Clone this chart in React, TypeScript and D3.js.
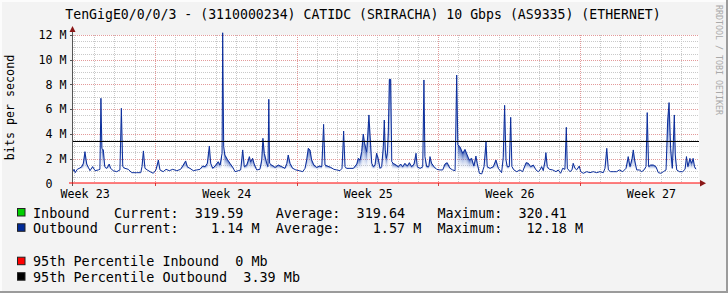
import React from "react";
import * as d3 from "d3";

const titleText =
  "TenGigE0/0/0/3 - (3110000234) CATIDC (SRIRACHA) 10 Gbps (AS9335) (ETHERNET)";
const yAxisTitle = "bits per second";
const watermark = "RRDTOOL / TOBI OETIKER";

// y axis (M bits/s)
const yMax = 12;
const yMajorTicks = [0, 2, 4, 6, 8, 10, 12];
const yMinorStep = 0.5;

// time axis in days from the left edge of the graph
const totalDays = 31;
const dayGridOffset = 0.1;
const weekStartDays = [4.1, 11.1, 18.1, 25.1];
const weekLabels = ["Week 23", "Week 24", "Week 25", "Week 26", "Week 27"];
const weekLabelDays = [0.65, 7.65, 14.65, 21.65, 28.65];

// 95th percentiles (M bits/s)
const pct95Inbound = 0;
const pct95Outbound = 3.39;

// outbound traffic [day, Mbit/s]
const outbound: [number, number][] = [
  [0.03, 0.94], [0.1, 1.13], [0.16, 0.86], [0.26, 1.13], [0.36, 1.21], [0.48, 1.35],
  [0.56, 1.62], [0.64, 2.56], [0.73, 1.56], [0.81, 1.29], [0.89, 1.02], [1.02, 1.35],
  [1.14, 1.02], [1.3, 1.08], [1.38, 1.13], [1.43, 6.88], [1.48, 2.83], [1.55, 2.7],
  [1.62, 1.35], [1.72, 1.21], [1.84, 1.56], [1.91, 1.21], [2.04, 1.02], [2.21, 0.94],
  [2.37, 1.08], [2.44, 6.07], [2.51, 1.35], [2.62, 1.21], [2.78, 1.13], [2.95, 0.86],
  [3.2, 0.86], [3.4, 0.86], [3.46, 1.35], [3.53, 2.62], [3.61, 1.21], [3.72, 1.08],
  [3.86, 0.94], [4.02, 0.81], [4.15, 1.08], [4.27, 1.89], [4.35, 1.08], [4.51, 0.94],
  [4.65, 1.13], [4.81, 1.02], [4.98, 1.13], [5.18, 1.02], [5.37, 1.13], [5.47, 1.4],
  [5.62, 1.81], [5.7, 1.35], [5.83, 1.21], [6.0, 1.02], [6.17, 1.08], [6.33, 1.13],
  [6.46, 1.4], [6.58, 1.35], [6.69, 1.62], [6.79, 3.02], [6.86, 1.62], [6.96, 1.21],
  [7.07, 1.4], [7.23, 1.75], [7.32, 1.48], [7.42, 2.43], [7.45, 12.18], [7.5, 2.97],
  [7.56, 2.29], [7.68, 1.94], [7.81, 1.62], [7.95, 1.29], [8.06, 0.94], [8.22, 1.02],
  [8.34, 1.08], [8.44, 2.7], [8.52, 1.35], [8.64, 1.48], [8.77, 2.16], [8.83, 1.75],
  [8.93, 2.02], [9.01, 1.56], [9.13, 1.08], [9.29, 1.13], [9.38, 1.89], [9.44, 3.64],
  [9.51, 2.43], [9.63, 1.62], [9.69, 1.35], [9.73, 6.8], [9.77, 1.62], [9.87, 1.48],
  [10.04, 1.29], [10.2, 1.48], [10.37, 1.35], [10.53, 1.21], [10.62, 1.62], [10.69, 2.29],
  [10.78, 1.62], [10.91, 1.21], [11.07, 1.08], [11.24, 1.02], [11.41, 0.94], [11.52, 1.21],
  [11.6, 1.89], [11.68, 2.83], [11.77, 2.7], [11.85, 1.89], [11.96, 1.48], [12.1, 1.29],
  [12.23, 1.4], [12.35, 1.35], [12.44, 4.77], [12.51, 1.48], [12.62, 1.4], [12.79, 1.29],
  [12.95, 1.13], [13.09, 1.08], [13.25, 1.02], [13.35, 1.21], [13.43, 4.23], [13.5, 1.35],
  [13.58, 1.21], [13.74, 1.21], [13.91, 1.21], [14.08, 1.56], [14.15, 2.02], [14.24, 1.89],
  [14.32, 2.56], [14.4, 3.99], [14.47, 3.24], [14.57, 2.56], [14.68, 5.53], [14.82, 1.62],
  [14.9, 1.35], [14.98, 1.48], [15.06, 2.43], [15.14, 2.02], [15.23, 1.21], [15.31, 1.35],
  [15.39, 2.97], [15.44, 5.12], [15.49, 2.7], [15.54, 2.02], [15.59, 2.43], [15.64, 4.31],
  [15.69, 8.41], [15.76, 8.41], [15.81, 1.75], [15.88, 1.62], [16.02, 1.48], [16.13, 1.35],
  [16.25, 1.56], [16.35, 1.35], [16.46, 1.62], [16.58, 1.4], [16.68, 1.67], [16.79, 1.35],
  [16.91, 1.56], [17.01, 2.43], [17.07, 1.35], [17.21, 1.21], [17.34, 1.35], [17.4, 8.36],
  [17.45, 2.16], [17.54, 1.35], [17.64, 1.35], [17.7, 2.16], [17.78, 1.62], [17.9, 1.35],
  [18.03, 1.13], [18.19, 1.08], [18.33, 1.08], [18.44, 1.56], [18.55, 1.67], [18.69, 1.21],
  [18.82, 1.08], [18.94, 1.02], [19.02, 8.76], [19.08, 3.1], [19.18, 2.97], [19.32, 2.43],
  [19.43, 2.75], [19.54, 2.29], [19.64, 1.89], [19.76, 2.02], [19.87, 1.4], [19.97, 2.21],
  [20.04, 1.62], [20.14, 0.81], [20.26, 0.76], [20.37, 1.35], [20.47, 3.37], [20.53, 1.35],
  [20.67, 1.21], [20.83, 1.35], [20.96, 1.89], [21.08, 1.21], [21.24, 0.86], [21.32, 2.1],
  [21.39, 6.31], [21.46, 1.89], [21.52, 1.35], [21.62, 1.35], [21.69, 5.34], [21.75, 1.35],
  [21.85, 1.08], [21.99, 0.94], [22.15, 1.08], [22.28, 0.94], [22.45, 1.67], [22.56, 1.62],
  [22.68, 1.35], [22.81, 1.48], [22.94, 1.08], [23.05, 0.94], [23.14, 1.08], [23.22, 1.35],
  [23.3, 1.02], [23.39, 1.89], [23.43, 2.48], [23.5, 1.35], [23.6, 1.13], [23.77, 1.08],
  [23.93, 0.94], [24.04, 1.08], [24.16, 0.81], [24.26, 1.21], [24.37, 1.13], [24.44, 4.53],
  [24.49, 1.21], [24.62, 0.94], [24.72, 1.08], [24.78, 1.62], [24.87, 1.21], [24.95, 1.08],
  [25.08, 1.4], [25.15, 0.94], [25.28, 0.81], [25.45, 0.94], [25.61, 0.86], [25.77, 0.94],
  [25.94, 0.86], [26.1, 0.94], [26.27, 0.86], [26.35, 1.21], [26.44, 2.83], [26.52, 1.08],
  [26.63, 0.94], [26.76, 0.94], [26.93, 0.94], [27.06, 1.08], [27.23, 0.94], [27.39, 1.21],
  [27.5, 2.16], [27.59, 1.35], [27.69, 2.02], [27.75, 2.7], [27.82, 1.89], [27.92, 1.08],
  [28.05, 1.08], [28.17, 0.94], [28.28, 1.08], [28.38, 1.35], [28.44, 5.72], [28.51, 1.35],
  [28.61, 1.48], [28.74, 1.48], [28.87, 1.35], [28.99, 0.86], [29.11, 0.81], [29.24, 0.94],
  [29.37, 1.08], [29.45, 5.12], [29.52, 6.53], [29.6, 2.83], [29.68, 1.21], [29.73, 3.37],
  [29.78, 5.53], [29.83, 2.29], [29.9, 1.08], [30.03, 0.94], [30.19, 0.94], [30.31, 1.13],
  [30.38, 2.16], [30.45, 1.35], [30.55, 2.02], [30.63, 1.62], [30.71, 2.02], [30.78, 1.35],
  [30.85, 1.14],
];

// legend
const legendItems = [
  { color: "#00CF00", text: "Inbound   Current:  319.59    Average:  319.64    Maximum:  320.41" },
  { color: "#002A97", text: "Outbound  Current:    1.14 M  Average:    1.57 M  Maximum:   12.18 M" },
];
const pctItems = [
  { color: "#FF0000", text: "95th Percentile Inbound  0 Mb" },
  { color: "#000000", text: "95th Percentile Outbound  3.39 Mb" },
];

const FONT = "'DejaVu Sans Mono', monospace";
const W = 728;
const H = 293;

export default function App() {
  const x = d3.scaleLinear().domain([0, totalDays]).range([72, 699]);
  const y = d3.scaleLinear().domain([0, yMax]).range([183.3, 35]);
  const px = (v: number) => Math.round(v) + 0.5;

  const line = d3
    .line<[number, number]>()
    .x((d) => x(d[0]))
    .y((d) => y(d[1]));

  const bis = d3.bisector((d: [number, number]) => d[0]).left;
  const valueAt = (t: number) => {
    if (t < outbound[0][0] || t > outbound[outbound.length - 1][0]) return null;
    const i = bis(outbound, t);
    if (i === 0) return outbound[0][1];
    const a = outbound[i - 1];
    const b = outbound[i];
    return a[1] + ((b[1] - a[1]) * (t - a[0])) / (b[0] - a[0]);
  };
  const floorV = 1.15;
  const [r0, r1] = x.range();
  const columns = d3.range(Math.floor(r0), Math.ceil(r1)).map((c) => {
    const v = valueAt(x.invert(c + 0.5));
    return { c, v };
  });

  const minorY = d3
    .range(yMinorStep, yMax, yMinorStep)
    .filter((v) => !yMajorTicks.some((m) => Math.abs(m - v) < 1e-6));
  const majorY = yMajorTicks.filter((v) => v > 0);
  const minorX = d3
    .range(dayGridOffset, totalDays, 1)
    .filter((d) => !weekStartDays.some((w) => Math.abs(w - d) < 1e-6));

  const charW = 11.68 * 0.6021;

  return (
    <svg
      width={W}
      height={H}
      style={{ position: "absolute", left: 0, top: 0, display: "block" }}
      fontFamily={FONT}
    >
      <defs>
        <linearGradient id="outGrad" x1="0" y1="0" x2="0" y2="1">
          <stop offset="0" stopColor="#1A3EA6" stopOpacity="0.85" />
          <stop offset="0.5" stopColor="#5577C8" stopOpacity="0.38" />
          <stop offset="1" stopColor="#8FA5DC" stopOpacity="0.0" />
        </linearGradient>
      </defs>
      {/* background and 3D border */}
      <rect x={0} y={0} width={W} height={H} fill="#F3F3F3" />
      <rect x={0} y={0} width={W} height={2} fill="#FCFCFC" />
      <rect x={0} y={0} width={2} height={H} fill="#FCFCFC" />
      <rect x={W - 2} y={0} width={2} height={H} fill="#9B9B9B" />
      <rect x={0} y={H - 2} width={W} height={2} fill="#9B9B9B" />

      {/* title */}
      <text x={363} y={18.5} fontSize={13.2} textAnchor="middle" fill="#000">
        {titleText}
      </text>

      {/* watermark */}
      <text transform="translate(716,5) rotate(90)" fontSize={8.3} fill="#A9A9A9">
        {watermark}
      </text>

      {/* y title */}
      <text
        transform="translate(13.5,107.5) rotate(-90)"
        fontSize={11.68}
        textAnchor="middle"
        fill="#000"
      >
        {yAxisTitle}
      </text>

      {/* canvas */}
      <rect x={72} y={35} width={x(totalDays) - 72} height={183 - 35} fill="#FFFFFF" />

      {/* grid */}
      {minorY.map((v) => (
        <line
          key={"my" + v}
          x1={73}
          x2={x(totalDays)}
          y1={px(y(v))}
          y2={px(y(v))}
          stroke="#C9C9C9"
          strokeDasharray="1,1"
        />
      ))}
      {minorX.map((d) => (
        <line
          key={"mx" + d}
          x1={px(x(d))}
          x2={px(x(d))}
          y1={35}
          y2={183}
          stroke="#C9C9C9"
          strokeDasharray="1,1"
        />
      ))}
      {majorY.map((v) => (
        <line
          key={"My" + v}
          x1={73}
          x2={x(totalDays)}
          y1={px(y(v))}
          y2={px(y(v))}
          stroke="#E39A9A"
          strokeDasharray="1,1"
        />
      ))}
      {weekStartDays.map((d) => (
        <line
          key={"Mx" + d}
          x1={px(x(d))}
          x2={px(x(d))}
          y1={35}
          y2={183}
          stroke="#E39A9A"
          strokeDasharray="1,1"
        />
      ))}

      {/* outbound gradient fill, per pixel column */}
      {columns
        .filter((col) => col.v !== null && (col.v as number) > floorV)
        .map((col) => (
          <rect
            key={"c" + col.c}
            x={col.c}
            width={1}
            y={y(col.v as number)}
            height={y(floorV) - y(col.v as number)}
            fill="url(#outGrad)"
          />
        ))}

      {/* outbound line */}
      <path
        d={line(outbound) || ""}
        fill="none"
        stroke="#0D2F9C"
        strokeWidth={1}
        strokeLinejoin="round"
      />

      {/* 95th percentile outbound */}
      <line
        x1={72}
        x2={x(totalDays)}
        y1={px(y(pct95Outbound))}
        y2={px(y(pct95Outbound))}
        stroke="#000"
        strokeWidth={1}
      />

      {/* axes */}
      <line x1={72.5} x2={72.5} y1={30} y2={186} stroke="#555" strokeWidth={1} />
      {majorY.map((v) => (
        <line key={"ty" + v} x1={70} x2={72} y1={px(y(v))} y2={px(y(v))} stroke="#555" />
      ))}
      {weekStartDays.map((d) => (
        <line key={"tx" + d} x1={px(x(d))} x2={px(x(d))} y1={183} y2={186} stroke="#C44" />
      ))}
      {/* 95th percentile inbound (at zero) */}
      <line
        x1={69}
        x2={701}
        y1={px(y(pct95Inbound)) - 0.5}
        y2={px(y(pct95Inbound)) - 0.5}
        stroke="#FF0000"
        strokeWidth={1}
      />
      <polygon points="69.5,32 75.5,32 72.5,26" fill="#8A1616" />
      <polygon points="700,180 700,186.5 706,183.2" fill="#8A1616" />

      {/* y tick labels */}
      {yMajorTicks.map((v) => (
        <text
          key={"yl" + v}
          x={v === 0 ? 66.5 - 2 * charW : 66.5}
          y={y(v) + 4.2}
          fontSize={11.68}
          textAnchor="end"
          fill="#000"
        >
          {v === 0 ? "0" : `${v} M`}
        </text>
      ))}

      {/* week labels */}
      {weekLabels.map((lab, i) => (
        <text
          key={lab}
          x={x(weekLabelDays[i])}
          y={197.5}
          fontSize={11.68}
          textAnchor="middle"
          fill="#000"
        >
          {lab}
        </text>
      ))}

      {/* legend */}
      {legendItems.map((it, i) => (
        <g key={"lg" + i}>
          <rect
            x={17.5}
            y={208.5 + i * 15.3}
            width={7.5}
            height={7.5}
            fill={it.color}
            stroke="#222"
          />
          <text
            x={33}
            y={217.5 + i * 15.3}
            fontSize={13.45}
            fill="#000"
            style={{ whiteSpace: "pre" }}
          >
            {it.text}
          </text>
        </g>
      ))}
      {pctItems.map((it, i) => (
        <g key={"pc" + i}>
          <rect
            x={17.5}
            y={257.2 + i * 15.5}
            width={7.5}
            height={7.5}
            fill={it.color}
            stroke="#222"
          />
          <text
            x={33}
            y={266.2 + i * 15.5}
            fontSize={13.45}
            fill="#000"
            style={{ whiteSpace: "pre" }}
          >
            {it.text}
          </text>
        </g>
      ))}
    </svg>
  );
}
